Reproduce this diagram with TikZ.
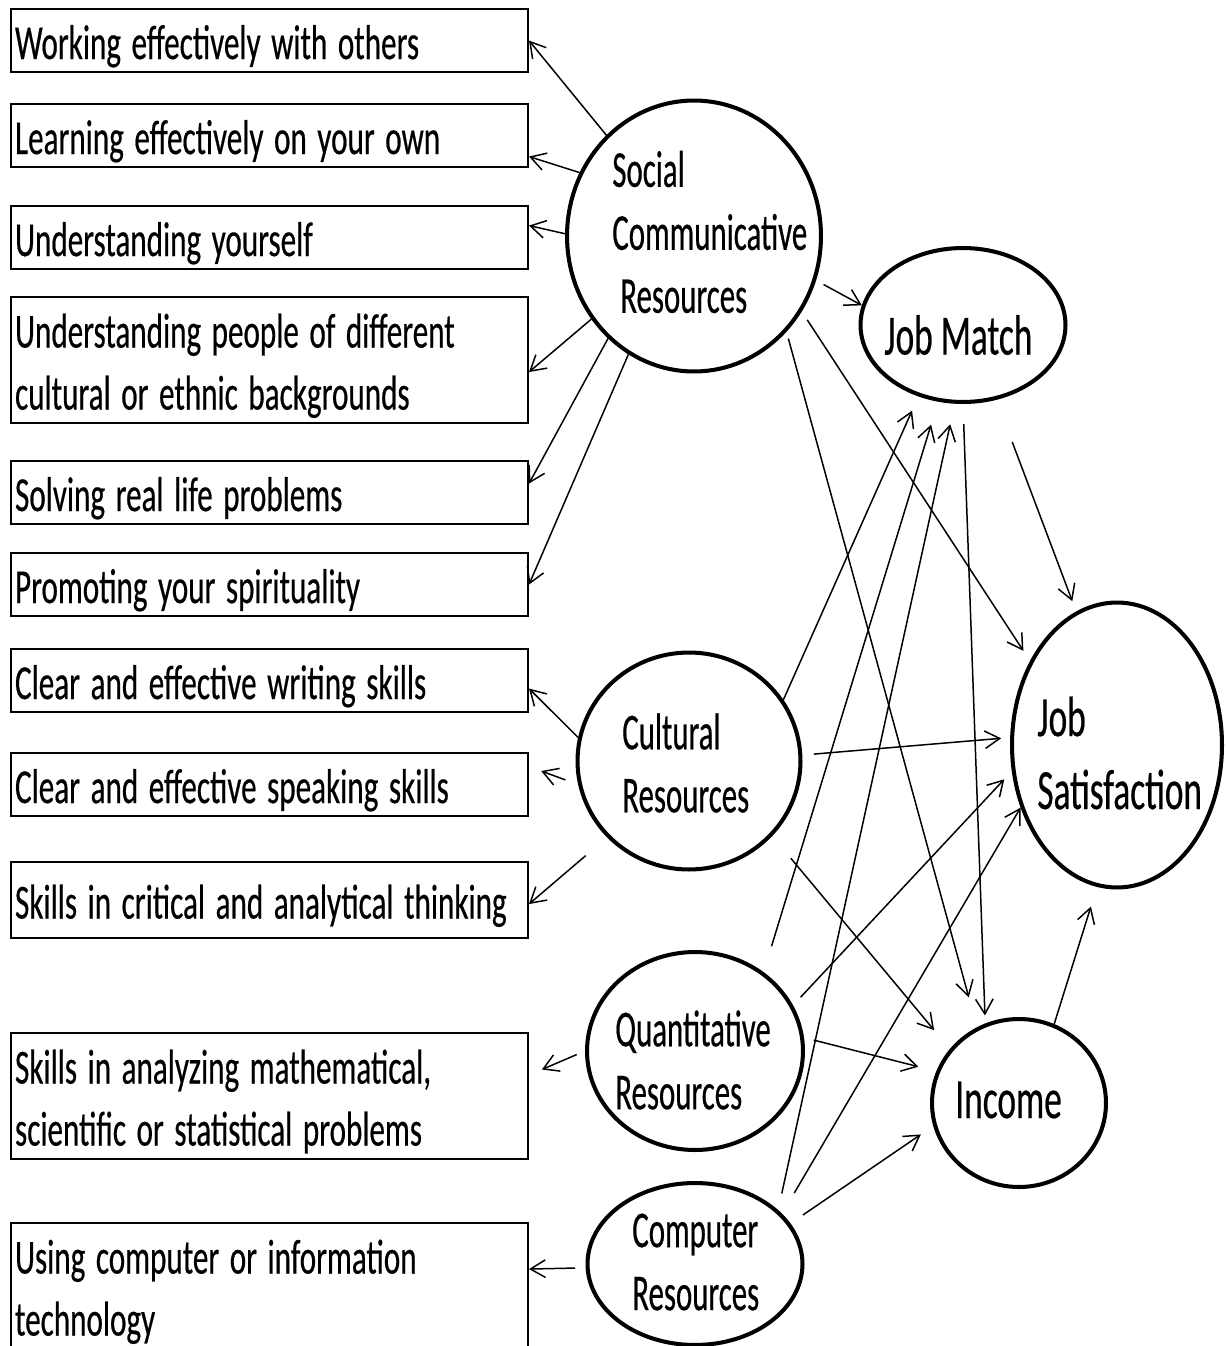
\documentclass[tikz,border=0pt]{standalone}
\usepackage{fontspec}
\setmainfont{Carlito}
\newfontfamily\skillfont[FakeStretch=0.635,FakeBold=0.4,WordSpace=1.5]{Carlito}
\newfontfamily\resfont[FakeStretch=0.595,FakeBold=0.4]{Carlito}
\newfontfamily\outfont[FakeStretch=0.62,FakeBold=0.4]{Carlito}
\usepackage{tikz}
\usetikzlibrary{arrows.meta,shapes.geometric,calc}
\hyphenpenalty=10000
\tikzset{
skill/.style = {draw, line width=1.2pt, anchor=north west, align=flush left, text width=10.18cm,
inner xsep=0.08cm, inner ysep=0pt, minimum height=1.26cm, text height=0.74cm, text depth=0pt,
font=\skillfont\fontsize{27.9pt}{35.3pt}\selectfont},% one line box
skill2/.style = {skill, minimum height=2.52cm, text height=0.9cm, text depth=1.4cm},% two line box
res/.style = {ellipse, draw, line width=2.3pt, inner sep=0pt},% resource / outcome
reslbl/.style = {anchor=west, align=left, inner sep=0pt, font=\resfont\fontsize{29.5pt}{35.85pt}\selectfont},
outlbl/.style = {anchor=west, align=left, inner sep=0pt, font=\outfont\fontsize{32.4pt}{41.5pt}\selectfont},
arr/.style = {-{Straight Barb[length=8.5pt,width=10pt]}, line width=0.85pt}
}
\begin{document}
\begin{tikzpicture}[x=0.02cm, y=-0.02cm]
\useasboundingbox (0,0) rectangle (1227,1346);
\clip (0,0) rectangle (1227,1346);

% skill boxes
\node[skill] (w1) at (10,8) {Working effectively with others};
\node[skill] (w2) at (10,103) {Learning effectively on your own};
\node[skill] (w3) at (10,205) {Understanding yourself};
\node[skill2] (w4) at (10,296) {Understanding people of different\\cultural or ethnic backgrounds};
\node[skill] (w5) at (10,460) {Solving real life problems};
\node[skill] (w6) at (10,552) {Promoting your spirituality};
\node[skill] (w7) at (10,648) {Clear and effective writing skills};
\node[skill] (w8) at (10,752) {Clear and effective speaking skills};
\node[skill, minimum height=1.52cm] (w9) at (10,861) {Skills in critical and analytical thinking};
\node[skill2] (w10) at (10,1032) {Skills in analyzing mathematical,\\scientific or statistical problems};
\node[skill2] (w11) at (10,1222) {Using computer or information\\technology};

% resources
\node[res, minimum width=5.08cm, minimum height=5.42cm] (soc) at (694,236) {};
\node[res, minimum width=4.46cm, minimum height=4.34cm] (cul) at (689,761) {};
\node[res, minimum width=4.32cm, minimum height=3.96cm] (qua) at (695,1051) {};
\node[res, minimum width=4.3cm, minimum height=3.24cm] (com) at (695,1264) {};
\node[reslbl] (soc-t) at (612,232) {Social\\Communicative\\\hspace*{0.16cm}Resources};
\node[reslbl] (cul-t) at (622,763) {Cultural\\Resources};
\node[reslbl] (qua-t) at (615,1060) {Quantitative\\Resources};
\node[reslbl] (com-t) at (632,1262) {Computer\\Resources};

% outcomes
\node[res, minimum width=4.1cm, minimum height=3.08cm] (jm) at (963,325) {};
\node[res, minimum width=4.2cm, minimum height=5.7cm] (js) at (1117,745) {};
\node[res, minimum width=3.48cm, minimum height=3.36cm] (inc) at (1019,1103) {};
\node[outlbl] (jm-t) at (884,335) {Job Match};
\node[outlbl] (js-t) at (1037,753) {Job\\Satisfaction};
\node[outlbl] (inc-t) at (955,1100) {Income};

% social communicative
\draw[arr] (soc.131) -- (w1.east);
\draw[arr] (soc.151) -- ($(w2.east)+(0,21)$);
\draw[arr] (soc.179) -- ($(w3.east)+(0,-12)$);
\draw[arr] (soc.219) -- ($(w4.east)+(0,12)$);
\draw[arr] (soc.230) -- ($(w5.east)+(0,-9)$);
\draw[arr] (soc.241) -- (w6.east);
\draw[arr, shorten <=0.17cm] (soc.340) -- (jm.169);
\draw[arr, shorten <=0.2cm, shorten >=0.24cm] (soc.325) -- (js.136);
\draw[arr, shorten <=0.14cm, shorten >=0.62cm] (soc.314) -- (inc.119);

% job match
\draw[arr, shorten <=0.9cm, shorten >=0.22cm] (jm.294) -- (js.107);
\draw[arr, shorten <=0.4cm, shorten >=0.16cm] (jm.270) -- (inc.113);

% cultural
\draw[arr] (cul.168) -- ($(w7.east)+(0,8)$);
\draw[arr, shorten <=0.27cm, shorten >=0.26cm] (cul.192) -- ($(w8.east)+(0,-18)$);
\draw[arr, shorten <=0.56cm] (cul.223) -- ($(w9.east)+(0,4)$);
\draw[arr, shorten >=0.31cm] (cul.33) -- (jm.238);
\draw[arr, shorten <=0.23cm, shorten >=0.18cm] (cul.3) -- (js.176);
\draw[arr, shorten <=0.58cm, shorten >=0.49cm] (cul.318) -- (inc.142);

% quantitative
\draw[arr, shorten <=0.18cm, shorten >=0.28cm] (qua.180) -- ($(w10.east)+(0,-21)$);
\draw[arr, shorten <=0.54cm, shorten >=0.48cm] (qua.49) -- (jm.252);
\draw[arr, shorten <=0.22cm, shorten >=0.22cm] (qua.25) -- (js.194);
\draw[arr, shorten <=0.2cm, shorten >=0.37cm] (qua.7) -- (inc.159);

% computer
\draw[arr, shorten <=0.21cm] (com.182) -- ($(w11.east)+(0,-17)$);
\draw[arr, shorten <=0.34cm, shorten >=0.42cm] (com.33) -- (jm.264);
\draw[arr, shorten <=0.48cm] (com.30) -- (js.213);
\draw[arr, shorten <=0.3cm, shorten >=0.3cm] (com.23) -- (inc.195);

% income
\draw[arr, shorten >=0.41cm] (inc.66) -- (js.262);
\end{tikzpicture}
\end{document}
